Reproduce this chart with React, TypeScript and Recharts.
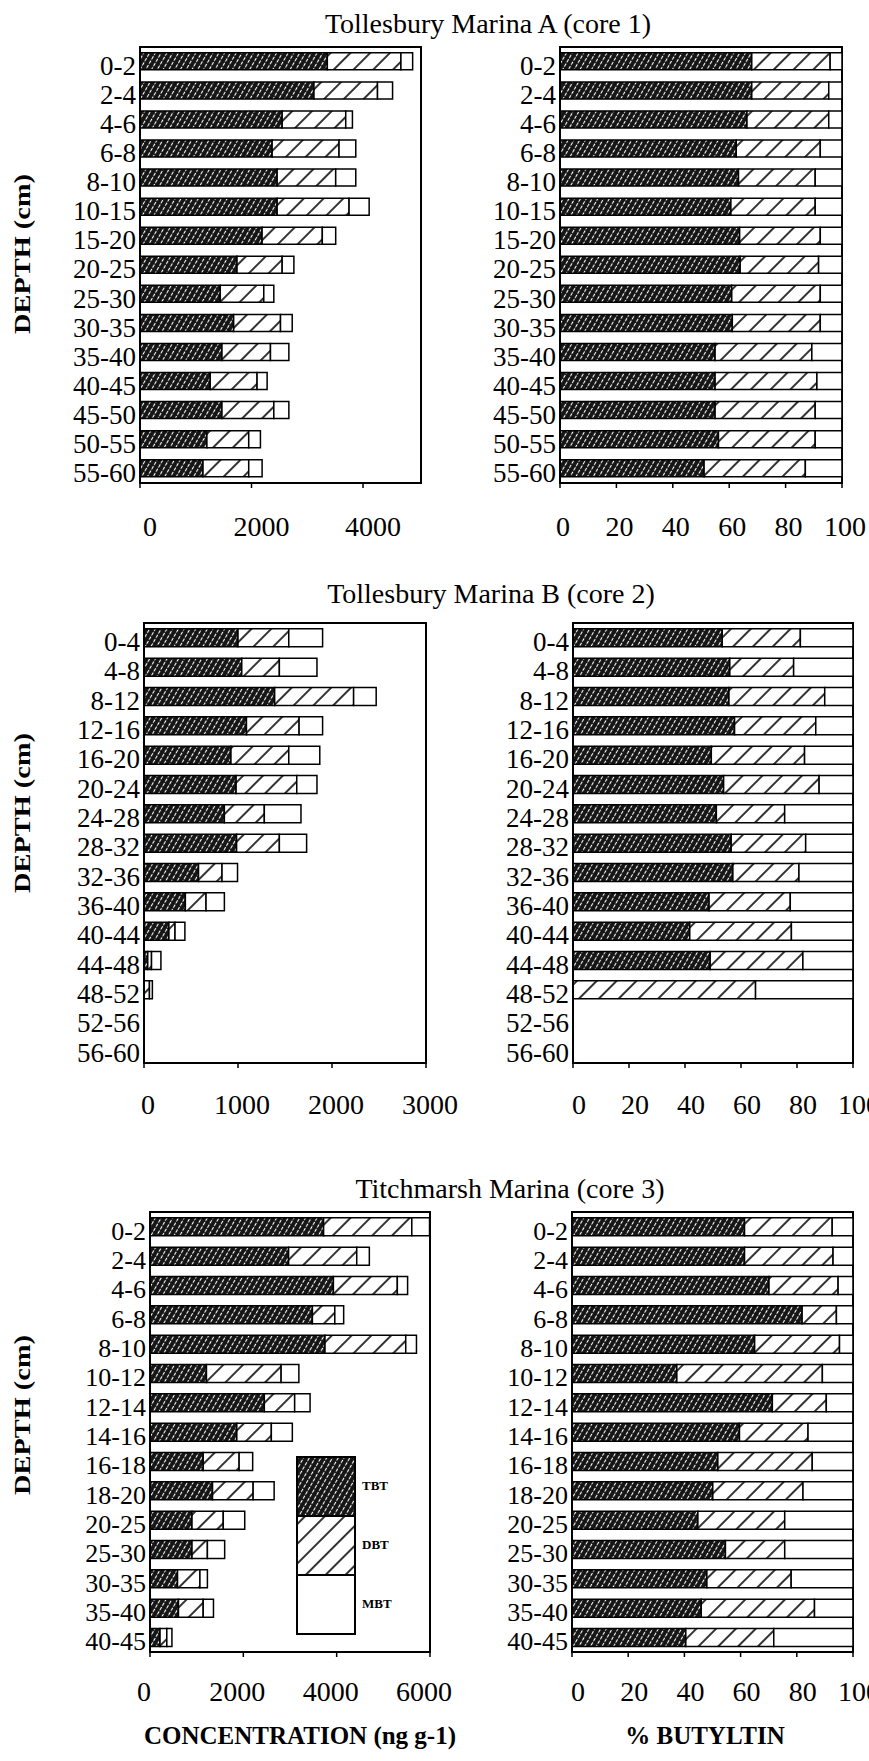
import React from "react";
import { BarChart, Bar, XAxis, YAxis, ReferenceArea, Legend } from "recharts";

const FONT = '"Liberation Serif", "Times New Roman", serif';

// Tollesbury Marina A (core 1)
const depthsA = ["0-2", "2-4", "4-6", "6-8", "8-10", "10-15", "15-20", "20-25", "25-30", "30-35", "35-40", "40-45", "45-50", "50-55", "55-60"];
const tbtA = [3360, 3120, 2550, 2370, 2460, 2460, 2190, 1740, 1440, 1680, 1470, 1260, 1470, 1200, 1130];
const dbtA = [1320, 1140, 1140, 1200, 1050, 1290, 1080, 810, 780, 840, 870, 840, 930, 750, 820];
const mbtA = [210, 270, 120, 300, 360, 360, 240, 210, 180, 210, 330, 180, 270, 210, 240];
const tbtPctA = [68.0, 68.0, 66.3, 62.5, 63.3, 60.6, 63.7, 63.9, 60.9, 61.1, 55.0, 55.0, 55.0, 56.2, 51.1];
const dbtPctA = [27.8, 27.3, 29.0, 29.8, 27.2, 29.9, 28.6, 27.8, 31.4, 31.2, 34.3, 36.1, 35.5, 34.3, 35.9];
const mbtPctA = [4.2, 4.7, 4.7, 7.7, 9.5, 9.5, 7.7, 8.3, 7.7, 7.7, 10.7, 8.9, 9.5, 9.5, 13.0];

// Tollesbury Marina B (core 2)
const depthsB = ["0-4", "4-8", "8-12", "12-16", "16-20", "20-24", "24-28", "28-32", "32-36", "36-40", "40-44", "44-48", "48-52", "52-56", "56-60"];
const tbtB = [1000, 1040, 1390, 1090, 925, 980, 855, 985, 580, 440, 265, 40, 0, 0, 0];
const dbtB = [540, 400, 840, 560, 615, 645, 425, 455, 250, 220, 65, 40, 58, 0, 0];
const mbtB = [360, 400, 240, 250, 330, 215, 390, 290, 165, 195, 105, 100, 31, 0, 0];
const tbtPctB = [53.3, 56.0, 55.7, 57.7, 49.4, 53.8, 51.2, 56.5, 57.1, 48.6, 41.7, 49.0, 0, 0, 0];
const dbtPctB = [27.9, 22.8, 34.2, 29.0, 33.3, 34.1, 24.4, 26.6, 23.6, 29.0, 36.3, 33.1, 65.2, 0, 0];
const mbtPctB = [18.8, 21.2, 10.1, 13.3, 17.3, 12.1, 24.4, 16.9, 19.3, 22.4, 22.0, 17.9, 34.8, 0, 0];

// Titchmarsh Marina (core 3)
const depthsC = ["0-2", "2-4", "4-6", "6-8", "8-10", "10-12", "12-14", "14-16", "16-18", "18-20", "20-25", "25-30", "30-35", "35-40", "40-45"];
const tbtC = [3720, 2970, 3930, 3480, 3750, 1210, 2450, 1860, 1140, 1340, 900, 900, 590, 610, 215];
const dbtC = [1890, 1460, 1370, 480, 1730, 1600, 650, 740, 770, 870, 670, 330, 480, 530, 145];
const mbtC = [380, 270, 220, 190, 230, 380, 330, 450, 290, 450, 460, 370, 160, 220, 110];
const tbtPctC = [61.4, 61.4, 70.1, 81.9, 65.0, 37.3, 71.3, 59.6, 51.9, 50.1, 44.8, 54.6, 48.0, 46.0, 40.5];
const dbtPctC = [31.2, 31.5, 24.6, 12.2, 30.2, 51.8, 19.2, 24.4, 33.6, 32.1, 30.9, 21.1, 30.0, 40.3, 31.3];
const mbtPctC = [7.4, 7.1, 5.3, 5.9, 4.8, 10.9, 9.5, 16.0, 14.5, 17.8, 24.3, 24.3, 22.0, 13.7, 28.2];

const concTicksA = [0, 2000, 4000];
const concTicksB = [0, 1000, 2000, 3000];
const concTicksC = [0, 2000, 4000, 6000];
const pctTicks = [0, 20, 40, 60, 80, 100];
const legendOrder = ["TBT", "DBT", "MBT"];

const rows = (depths, t, d, m) =>
  depths.map((depth, i) => ({ depth, tbt: t[i], dbt: d[i], mbt: m[i] }));

function LegendBox({ payload }) {
  const items = [...(payload || [])].sort(
    (a, b) => legendOrder.indexOf(a.value) - legendOrder.indexOf(b.value)
  );
  return (
    <svg width={110} height={184}>
      {items.map((e, i) => (
        <g key={e.value}>
          <rect x={1} y={1 + i * 59} width={58} height={59} fill={e.color} stroke="#000" strokeWidth={2} />
          <text x={66} y={i * 59 + 34} fontFamily={FONT} style={{ fontFamily: FONT }} fontSize={13} fontWeight="bold" fill="#000">
            {e.value}
          </text>
        </g>
      ))}
    </svg>
  );
}

function Panel({ data, domain, ticks, box, side, tickDx, tickOff, catSize, legend }) {
  const left = side === "L" ? 0 : 440;
  const width = side === "L" ? 480 : 429;
  const height = 10 + (box.y1 - box.y0) + 60;
  const top = box.y0 - 10;

  const xTick = (p) => (
    <text x={p.x + tickDx} y={p.y + tickOff} textAnchor="middle" fontFamily={FONT}
      style={{ fontFamily: FONT }} fontSize={28} fill="#000">
      {p.payload.value}
    </text>
  );
  const yTick = (p) => (
    <text x={p.x} y={p.y} dy={catSize * 0.35 + 4} textAnchor="end" fontFamily={FONT}
      style={{ fontFamily: FONT }} fontSize={catSize} fill="#000">
      {p.payload.value}
    </text>
  );

  return (
    <div style={{ position: "absolute", left, top, width, height }}>
      <BarChart
        layout="vertical"
        width={width}
        height={height}
        data={data}
        margin={{ top: 10, right: left + width - box.x1, bottom: 0, left: 0 }}
        barCategoryGap="20%"
      >
        <XAxis
          type="number"
          domain={domain}
          ticks={ticks}
          allowDataOverflow
          interval={0}
          height={60}
          axisLine={{ stroke: "#000", strokeWidth: 2 }}
          tickLine={{ stroke: "#000", strokeWidth: 1.5 }}
          tickSize={5}
          tickMargin={0}
          tick={xTick}
        />
        <YAxis
          type="category"
          dataKey="depth"
          width={box.x0 - left}
          interval={0}
          axisLine={{ stroke: "#000", strokeWidth: 2 }}
          tickLine={false}
          tickSize={0}
          tickMargin={4}
          tick={yTick}
        />
        <ReferenceArea x1={domain[0]} x2={domain[1]} fill="none" stroke="#000" strokeWidth={2} />
        <Bar dataKey="tbt" name="TBT" stackId="s" fill="url(#tbtHatch)" stroke="#000" strokeWidth={1.5} isAnimationActive={false} />
        <Bar dataKey="dbt" name="DBT" stackId="s" fill="url(#dbtHatch)" stroke="#000" strokeWidth={1.5} isAnimationActive={false} />
        <Bar dataKey="mbt" name="MBT" stackId="s" fill="#ffffff" stroke="#000" strokeWidth={1.5} isAnimationActive={false} />
        {legend && (
          <Legend
            layout="vertical"
            align="center"
            verticalAlign="middle"
            content={LegendBox}
            wrapperStyle={{ position: "absolute", left: 296, top: 1456 - top, width: 110, height: 184 }}
          />
        )}
      </BarChart>
    </div>
  );
}

export default function App() {
  return (
    <div style={{ position: "absolute", left: 0, top: 0, width: 869, height: 1761, overflow: "hidden", background: "#fff" }}>
      <svg width={0} height={0} style={{ position: "absolute" }}>
        <defs>
          <pattern id="tbtHatch" patternUnits="userSpaceOnUse" width={5} height={5} patternTransform="rotate(30)">
            <rect width={5} height={5} fill="#151515" />
            <line x1={2.5} y1={0} x2={2.5} y2={5} stroke="#fff" strokeWidth={1.1} strokeDasharray="3.5 1.5" />
          </pattern>
          <pattern id="dbtHatch" patternUnits="userSpaceOnUse" width={14} height={14} patternTransform="rotate(45)">
            <rect width={14} height={14} fill="#fff" />
            <line x1={7} y1={0} x2={7} y2={14} stroke="#000" strokeWidth={1.6} />
          </pattern>
        </defs>
      </svg>

      <Panel data={rows(depthsA, tbtA, dbtA, mbtA)} domain={[0, 5040]} ticks={concTicksA}
        box={{ x0: 140, y0: 47, x1: 421, y1: 483 }} side="L" tickDx={10} tickOff={48} catSize={27} />
      <Panel data={rows(depthsA, tbtPctA, dbtPctA, mbtPctA)} domain={[0, 100]} ticks={pctTicks}
        box={{ x0: 560, y0: 47, x1: 842, y1: 483 }} side="R" tickDx={3} tickOff={48} catSize={27} />

      <Panel data={rows(depthsB, tbtB, dbtB, mbtB)} domain={[0, 3000]} ticks={concTicksB}
        box={{ x0: 144, y0: 623, x1: 426, y1: 1063 }} side="L" tickDx={4} tickOff={46} catSize={27} />
      <Panel data={rows(depthsB, tbtPctB, dbtPctB, mbtPctB)} domain={[0, 100]} ticks={pctTicks}
        box={{ x0: 573, y0: 623, x1: 853, y1: 1063 }} side="R" tickDx={6} tickOff={46} catSize={27} />

      <Panel data={rows(depthsC, tbtC, dbtC, mbtC)} domain={[0, 6000]} ticks={concTicksC}
        box={{ x0: 150, y0: 1212, x1: 430, y1: 1652 }} side="L" tickDx={-6} tickOff={44} catSize={26} legend />
      <Panel data={rows(depthsC, tbtPctC, dbtPctC, mbtPctC)} domain={[0, 100]} ticks={pctTicks}
        box={{ x0: 572, y0: 1212, x1: 853, y1: 1652 }} side="R" tickDx={6} tickOff={44} catSize={26} />

      <svg width={869} height={1761} style={{ position: "absolute", left: 0, top: 0, pointerEvents: "none" }}>
        <g fontFamily={FONT} style={{ fontFamily: FONT }} fill="#000">
          <text x={488} y={33} fontSize={28} textAnchor="middle">Tollesbury Marina A (core 1)</text>
          <text x={491} y={603} fontSize={28} textAnchor="middle">Tollesbury Marina B (core 2)</text>
          <text x={510} y={1198} fontSize={28} textAnchor="middle">Titchmarsh Marina (core 3)</text>
          {[254, 813, 1415].map((cy) => (
            <text key={cy} x={0} y={0} fontSize={24} fontWeight="bold" textAnchor="middle"
              transform={`translate(30 ${cy}) rotate(-90)`} textLength={160} lengthAdjust="spacingAndGlyphs">
              DEPTH (cm)
            </text>
          ))}
          <text x={300} y={1744} fontSize={25} fontWeight="bold" textAnchor="middle">CONCENTRATION (ng g-1)</text>
          <text x={705} y={1744} fontSize={25} fontWeight="bold" textAnchor="middle">% BUTYLTIN</text>
        </g>
      </svg>
    </div>
  );
}
